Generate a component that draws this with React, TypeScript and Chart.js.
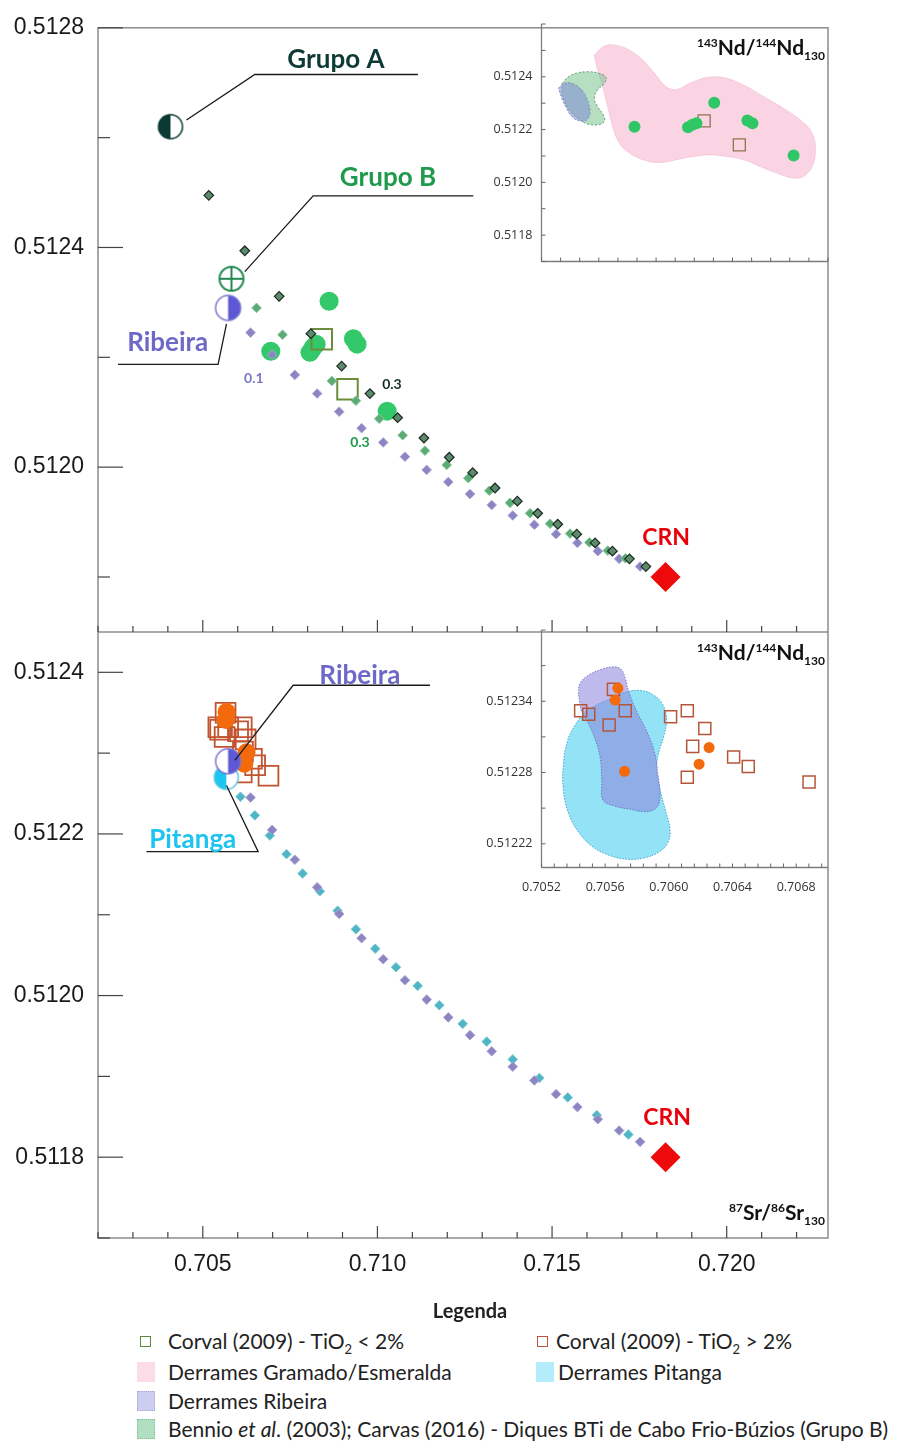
import React, { useEffect, useRef } from 'react';
import { Chart, registerables } from 'chart.js';

Chart.register(...registerables);

type P = [number, number];

// ---- 87Sr/86Sr(130) vs 143Nd/144Nd(130) ----

// Grupo B samples (green circles) and Corval (2009) TiO2 < 2% (squares)
const LOW_TI_SAMPLES: P[] = [
  [0.706947, 0.512211], [0.708069, 0.512209], [0.708162, 0.512218], [0.708246, 0.512224],
  [0.708617, 0.512302], [0.709312, 0.512234], [0.709417, 0.512224], [0.71028, 0.512102],
];
const CORVAL_LOW_TI: P[] = [[0.708406, 0.512233], [0.709143, 0.512142]];

// Orange circles and Corval (2009) TiO2 > 2% (squares)
const HIGH_TI_SAMPLES: P[] = [
  [0.70568, 0.512351], [0.705663, 0.512341], [0.705722, 0.512281], [0.706253, 0.512301], [0.70619, 0.512287],
];
const CORVAL_HIGH_TI: P[] = [
  [0.705652, 0.51235], [0.705446, 0.512332], [0.705497, 0.512329], [0.705726, 0.512332],
  [0.705625, 0.51232], [0.706011, 0.512327], [0.706116, 0.512332], [0.706226, 0.512317],
  [0.70615, 0.512302], [0.706116, 0.512276], [0.706407, 0.512293], [0.706499, 0.512285],
  [0.706881, 0.512272],
];

// End members
const GRUPO_A: P[] = [[0.704075, 0.51262]];
const GRUPO_B: P[] = [[0.705822, 0.512343]];
const RIBEIRA: P[] = [[0.705725, 0.51229]];
const PITANGA: P[] = [[0.705673, 0.51227]];
const CRN: P[] = [[0.71825, 0.5118]];

// Mixing curves towards CRN
const MIX_GRUPO_A: P[] = [
  [0.705172, 0.512495], [0.706203, 0.512394], [0.707186, 0.512311], [0.708095, 0.512243],
  [0.708974, 0.512184], [0.709785, 0.512134], [0.710579, 0.51209], [0.711332, 0.512053],
  [0.712057, 0.512018], [0.712728, 0.51199], [0.713367, 0.511962], [0.714006, 0.511938],
  [0.71459, 0.511916], [0.715163, 0.511896], [0.715708, 0.511878], [0.716232, 0.511862],
  [0.716728, 0.511847], [0.717215, 0.511833], [0.717685, 0.511819],
];
const MIX_GRUPO_B: P[] = [
  [0.706539, 0.51229], [0.707284, 0.512241], [0.708696, 0.512157], [0.709384, 0.512121],
  [0.710052, 0.512088], [0.710722, 0.512058], [0.711361, 0.51203], [0.711983, 0.512004],
  [0.712602, 0.51198], [0.713203, 0.511957], [0.713797, 0.511935], [0.71437, 0.511916],
  [0.714943, 0.511897], [0.715516, 0.511879], [0.716069, 0.511863], [0.716596, 0.511848],
  [0.7171, 0.511834],
];
const MIX_RIBEIRA: P[] = [
  [0.706367, 0.512245], [0.706986, 0.512205], [0.707636, 0.512168], [0.708275, 0.512134],
  [0.708905, 0.512101], [0.709547, 0.512071], [0.710166, 0.512045], [0.710788, 0.512019],
  [0.71141, 0.511995], [0.712029, 0.511973], [0.71265, 0.511951], [0.713272, 0.511931],
  [0.713874, 0.511912], [0.714493, 0.511895], [0.715115, 0.511878], [0.715725, 0.511862],
  [0.71631, 0.511847], [0.71692, 0.511833], [0.717521, 0.511819],
];
const MIX_PITANGA: P[] = [
  [0.70608, 0.512246], [0.70649, 0.512223], [0.70692, 0.512198], [0.707398, 0.512175],
  [0.707857, 0.512151], [0.708352, 0.512129], [0.70886, 0.512105], [0.709384, 0.512082],
  [0.709937, 0.512058], [0.71053, 0.512035], [0.711152, 0.512012], [0.711771, 0.511988],
  [0.712441, 0.511965], [0.713129, 0.511943], [0.713874, 0.511921], [0.714636, 0.511898],
  [0.71545, 0.511874], [0.716281, 0.511852], [0.717186, 0.511828],
];

// Compositional fields (outlines)
const FIELD_GRAMADO: P[] = [
  [0.706105, 0.512482], [0.706316, 0.512516], [0.706561, 0.512519], [0.706842, 0.512501],
  [0.707123, 0.512463], [0.707368, 0.512413], [0.707614, 0.512362], [0.707825, 0.512352],
  [0.708105, 0.512375], [0.708456, 0.512397], [0.708807, 0.512397], [0.709228, 0.512369],
  [0.709649, 0.512325], [0.71007, 0.51228], [0.710421, 0.512236], [0.710667, 0.512186],
  [0.710737, 0.512123], [0.710667, 0.51206], [0.710491, 0.512023], [0.71028, 0.512016],
  [0.70993, 0.512035], [0.709579, 0.51206], [0.709228, 0.512086], [0.708877, 0.512098],
  [0.708526, 0.512104], [0.708175, 0.512098], [0.707825, 0.512086], [0.707474, 0.512075],
  [0.707123, 0.512086], [0.706842, 0.512111], [0.706632, 0.512148], [0.706491, 0.512211],
  [0.706386, 0.512287], [0.706281, 0.512362], [0.706175, 0.512425],
];
const FIELD_BENNIO: P[] = [
  [0.705439, 0.512375], [0.705544, 0.512397], [0.705719, 0.512413], [0.705965, 0.512419],
  [0.706211, 0.512413], [0.706351, 0.512397], [0.706316, 0.512375], [0.706175, 0.51235],
  [0.706105, 0.512318], [0.706175, 0.512287], [0.706295, 0.512255], [0.706316, 0.51223],
  [0.706175, 0.512218], [0.705965, 0.512221], [0.705754, 0.512243], [0.705579, 0.512274],
  [0.705474, 0.512312], [0.705425, 0.512343],
];
const FIELD_RIBEIRA_WIDE: P[] = [
  [0.705354, 0.512356], [0.705439, 0.512372], [0.705579, 0.512377], [0.705754, 0.512365],
  [0.705895, 0.512337], [0.705986, 0.512299], [0.706014, 0.512262], [0.705944, 0.512236],
  [0.705789, 0.512233], [0.705635, 0.512249], [0.705523, 0.512281], [0.705425, 0.512318],
];
const FIELD_RIBEIRA: P[] = [
  [0.705432, 0.512346], [0.705442, 0.512355], [0.705495, 0.512362], [0.705579, 0.512367],
  [0.705653, 0.512369], [0.705699, 0.512367], [0.705727, 0.512359], [0.705748, 0.512348],
  [0.7058, 0.512331], [0.705864, 0.512314], [0.70591, 0.512297], [0.705933, 0.512277],
  [0.705944, 0.512261], [0.705927, 0.512251], [0.705864, 0.512247], [0.705758, 0.512249],
  [0.705653, 0.512252], [0.705585, 0.512257], [0.705579, 0.512272], [0.705569, 0.512292],
  [0.705537, 0.512308], [0.705495, 0.512321], [0.705453, 0.512331],
];
const FIELD_PITANGA: P[] = [
  [0.705474, 0.512331], [0.705548, 0.512337], [0.705632, 0.512342], [0.705737, 0.512348],
  [0.705821, 0.512349], [0.705895, 0.512346], [0.705958, 0.512338], [0.705986, 0.512325],
  [0.705969, 0.512311], [0.705937, 0.512297], [0.705922, 0.512283], [0.705944, 0.512266],
  [0.705979, 0.512248], [0.706007, 0.512232], [0.705994, 0.512221], [0.705937, 0.512213],
  [0.705842, 0.512208], [0.705737, 0.512207], [0.705632, 0.51221], [0.705526, 0.512217],
  [0.705432, 0.51223], [0.705369, 0.512246], [0.705337, 0.512266], [0.705337, 0.512286],
  [0.705362, 0.512306], [0.705411, 0.51232],
];

// Axis labels
const MAIN_X_LABELS = [0.705, 0.71, 0.715, 0.72];
const TOP_Y_LABELS = [0.512, 0.5124, 0.5128];
const BOTTOM_Y_LABELS = [0.5118, 0.512, 0.5122, 0.5124];
const INSET_A_X_LABELS = [0.706, 0.708, 0.71];
const INSET_A_Y_LABELS = [0.5118, 0.512, 0.5122, 0.5124];
const INSET_B_X_LABELS = [0.7052, 0.7056, 0.706, 0.7064, 0.7068];
const INSET_B_Y_LABELS = [0.51222, 0.51228, 0.51234];

// Annotation texts (placed in data units of each panel)
const TOP_NOTES = [
  { text: 'Grupo A', x: 0.708811, y: 0.512742, color: '#0d3a35', size: 26 },
  { text: 'Grupo B', x: 0.710301, y: 0.512527, color: '#1f9a4c', size: 26 },
  { text: 'Ribeira', x: 0.703997, y: 0.512226, color: '#6e68c8', size: 26 },
  { text: '0.1', x: 0.706461, y: 0.512161, color: '#7b76c4', size: 14 },
  { text: '0.3', x: 0.710415, y: 0.51215, color: '#10302b', size: 14 },
  { text: '0.3', x: 0.709499, y: 0.512045, color: '#1f9a4c', size: 14 },
  { text: 'CRN', x: 0.718266, y: 0.511872, color: '#e8000b', size: 23 },
];
const BOTTOM_NOTES = [
  { text: 'Ribeira', x: 0.709499, y: 0.512396, color: '#6e68c8', size: 26 },
  { text: 'Pitanga', x: 0.704713, y: 0.512193, color: '#1cc4ef', size: 26 },
  { text: 'CRN', x: 0.718295, y: 0.511849, color: '#e8000b', size: 23 },
];
const TOP_LEADERS: P[][] = [
  [[0.704533, 0.512632], [0.70649, 0.512715], [0.71116, 0.512715]],
  [[0.706203, 0.512356], [0.70816, 0.512494], [0.712745, 0.512494]],
  [[0.705679, 0.512261], [0.705438, 0.512187], [0.702573, 0.512187]],
];
const BOTTOM_LEADERS: P[][] = [
  [[0.705917, 0.512291], [0.707587, 0.512384], [0.711504, 0.512384]],
  [[0.705679, 0.51226], [0.706585, 0.512178], [0.703387, 0.512178]],
];

const TICK_FONT = '"Liberation Sans", Arial, sans-serif';
const INSET_FONT = '"Open Sans", "Noto Sans", sans-serif';
const LABEL_FONT = 'Lato, "Open Sans", sans-serif';

const xy = (pts: P[]) => pts.map(([x, y]) => ({ x, y }));
const isLabel = (arr: number[], v: number) => arr.some((a) => Math.abs(a - v) < 1e-9);

function strokeLine(ctx: CanvasRenderingContext2D, x1: number, y1: number, x2: number, y2: number) {
  ctx.beginPath();
  ctx.moveTo(x1, y1);
  ctx.lineTo(x2, y2);
  ctx.stroke();
}

function tickMarksX(ctx: any, scale: any, yBase: number, labels: number[], major: number, minor: number) {
  for (const t of scale.ticks) {
    const px = scale.getPixelForValue(t.value);
    strokeLine(ctx, px, yBase, px, yBase - (isLabel(labels, t.value) ? major : minor));
  }
}
function tickMarksY(ctx: any, scale: any, xBase: number, labels: number[], major: number, minor: number) {
  for (const t of scale.ticks) {
    const py = scale.getPixelForValue(t.value);
    strokeLine(ctx, xBase, py, xBase + (isLabel(labels, t.value) ? major : minor), py);
  }
}

function drawNotes(ctx: any, xs: any, ys: any, notes: typeof TOP_NOTES) {
  ctx.textAlign = 'center';
  ctx.textBaseline = 'middle';
  for (const n of notes) {
    ctx.font = `bold ${n.size}px ${LABEL_FONT}`;
    ctx.fillStyle = n.color;
    ctx.fillText(n.text, xs.getPixelForValue(n.x), ys.getPixelForValue(n.y));
  }
}
function drawLeaders(ctx: any, xs: any, ys: any, leaders: P[][]) {
  ctx.strokeStyle = '#1a1a1a';
  ctx.lineWidth = 1.3;
  for (const l of leaders) {
    ctx.beginPath();
    l.forEach(([x, y], i) => {
      const px = xs.getPixelForValue(x);
      const py = ys.getPixelForValue(y);
      if (i === 0) ctx.moveTo(px, py);
      else ctx.lineTo(px, py);
    });
    ctx.stroke();
  }
}

// Point symbols for the end members
function symbolCanvas(r: number, draw: (ctx: CanvasRenderingContext2D, c: number) => void) {
  const s = Math.ceil(2 * r + 4);
  const cv = document.createElement('canvas');
  cv.width = s;
  cv.height = s;
  draw(cv.getContext('2d')!, s / 2);
  return cv;
}
function halfCircle(r: number, fill: string, stroke: string, side: 'left' | 'right') {
  return symbolCanvas(r, (ctx, c) => {
    ctx.beginPath();
    ctx.arc(c, c, r, 0, Math.PI * 2);
    ctx.fillStyle = '#fff';
    ctx.fill();
    ctx.beginPath();
    if (side === 'left') ctx.arc(c, c, r, Math.PI / 2, Math.PI * 1.5);
    else ctx.arc(c, c, r, -Math.PI / 2, Math.PI / 2);
    ctx.closePath();
    ctx.fillStyle = fill;
    ctx.fill();
    ctx.beginPath();
    ctx.arc(c, c, r, 0, Math.PI * 2);
    ctx.lineWidth = 1.5;
    ctx.strokeStyle = stroke;
    ctx.stroke();
  });
}
function crossCircle(r: number, stroke: string) {
  return symbolCanvas(r, (ctx, c) => {
    ctx.beginPath();
    ctx.arc(c, c, r, 0, Math.PI * 2);
    ctx.fillStyle = '#fff';
    ctx.fill();
    ctx.lineWidth = 2;
    ctx.strokeStyle = stroke;
    ctx.stroke();
    strokeLine(ctx, c - r, c, c + r, c);
    strokeLine(ctx, c, c - r, c, c + r);
  });
}

const pt = (style: any, radius: number, fill: string, stroke: string, bw: number) => ({
  pointStyle: style,
  pointRadius: radius,
  pointHoverRadius: radius,
  pointBackgroundColor: fill,
  pointBorderColor: stroke,
  pointBorderWidth: bw,
  backgroundColor: fill,
  borderColor: stroke,
});
const scatter = (data: P[], yAxisID: string, style: any) => ({
  type: 'scatter',
  data: xy(data),
  yAxisID,
  showLine: false,
  ...style,
});
const field = (pts: P[], yAxisID: string, fill: string, stroke: string, dash: number[]) => ({
  type: 'line',
  data: xy([...pts, pts[0]]),
  yAxisID,
  fill: 'shape',
  backgroundColor: fill,
  borderColor: stroke,
  borderWidth: 1,
  borderDash: dash,
  tension: 0.4,
  pointRadius: 0,
  pointHoverRadius: 0,
});

function labelAxis(opts: any) {
  const { min, max, step, labels, digits, font, color, padding, position, size, stack, stackWeight, weight } = opts;
  const axis: any = {
    type: 'linear',
    position,
    min,
    max,
    grid: { display: false, drawTicks: false },
    border: { display: false },
    ticks: {
      stepSize: step,
      autoSkip: false,
      includeBounds: false,
      maxRotation: 0,
      minRotation: 0,
      padding,
      color,
      font,
      callback: (v: number) => (isLabel(labels, v) ? v.toFixed(digits) : ''),
    },
    afterFit: (s: any) => {
      if (position === 'bottom') s.height = size;
      else s.width = size;
    },
  };
  if (stack) {
    axis.stack = stack;
    axis.stackWeight = stackWeight;
    axis.weight = weight;
  }
  return axis;
}

function mainConfig(): any {
  const grupoA = halfCircle(12, '#0b3a35', '#0b3a35', 'left');
  const grupoB = crossCircle(12, '#23894f');
  const ribeira = halfCircle(12.5, '#5e58d6', '#7a75cf', 'right');
  const pitanga = halfCircle(12, '#1cc6ee', '#5cc4e4', 'left');
  const tickFont = { family: TICK_FONT, size: 23 };

  const decor = {
    id: 'mainDecor',
    afterDraw(chart: any) {
      const { ctx, chartArea: a, scales } = chart;
      const xs = scales.x;
      const yt = scales.yTop;
      const yb = scales.yBot;
      ctx.save();
      ctx.strokeStyle = '#8c8c8c';
      ctx.lineWidth = 1.5;
      ctx.strokeRect(a.left, a.top, a.right - a.left, a.bottom - a.top);
      strokeLine(ctx, a.left, yt.bottom, a.right, yt.bottom);
      ctx.strokeStyle = '#444';
      ctx.lineWidth = 1.2;
      tickMarksY(ctx, yt, a.left, TOP_Y_LABELS, 25, 12);
      tickMarksY(ctx, yb, a.left, BOTTOM_Y_LABELS, 25, 12);
      tickMarksX(ctx, xs, yt.bottom, MAIN_X_LABELS, 12, 6);
      tickMarksX(ctx, xs, yb.bottom, MAIN_X_LABELS, 12, 6);
      drawLeaders(ctx, xs, yt, TOP_LEADERS);
      drawLeaders(ctx, xs, yb, BOTTOM_LEADERS);
      drawNotes(ctx, xs, yt, TOP_NOTES);
      drawNotes(ctx, xs, yb, BOTTOM_NOTES);
      ctx.restore();
    },
  };

  return {
    type: 'scatter',
    data: {
      datasets: [
        // upper panel
        scatter(CRN, 'yTop', pt('rectRot', 15, '#ee0a0a', '#ee0a0a', 0)),
        scatter(GRUPO_A, 'yTop', { pointStyle: grupoA, pointRadius: 12 }),
        scatter(GRUPO_B, 'yTop', { pointStyle: grupoB, pointRadius: 12 }),
        scatter(RIBEIRA, 'yTop', { pointStyle: ribeira, pointRadius: 12 }),
        scatter(MIX_GRUPO_A, 'yTop', pt('rectRot', 4.8, '#5c8a6c', '#1e2a22', 1.2)),
        scatter(MIX_GRUPO_B, 'yTop', pt('rectRot', 4.8, '#5aab74', '#86c49a', 1)),
        scatter(MIX_RIBEIRA, 'yTop', pt('rectRot', 4.8, '#8b86c2', '#a9a4d6', 1)),
        scatter(CORVAL_LOW_TI, 'yTop', pt('rect', 14.5, 'rgba(0,0,0,0)', '#6c8d3b', 2)),
        scatter(LOW_TI_SAMPLES, 'yTop', pt('circle', 9.5, '#33c96a', '#33c96a', 0)),
        // lower panel
        scatter(CRN, 'yBot', pt('rectRot', 15, '#ee0a0a', '#ee0a0a', 0)),
        scatter(RIBEIRA, 'yBot', { pointStyle: ribeira, pointRadius: 12 }),
        scatter(PITANGA, 'yBot', { pointStyle: pitanga, pointRadius: 12 }),
        scatter(HIGH_TI_SAMPLES, 'yBot', pt('circle', 9, '#f36a0c', '#f36a0c', 0)),
        scatter(CORVAL_HIGH_TI, 'yBot', pt('rect', 14, 'rgba(0,0,0,0)', '#c2532e', 1.8)),
        scatter(MIX_RIBEIRA, 'yBot', pt('rectRot', 4.8, '#8b86c2', '#a9a4d6', 1)),
        scatter(MIX_PITANGA, 'yBot', pt('rectRot', 4.8, '#4fb5c5', '#7ccad6', 1)),
      ],
    },
    options: {
      animation: false,
      responsive: false,
      maintainAspectRatio: false,
      layout: { padding: { left: 0, right: 86, top: 24, bottom: 0 } },
      plugins: { legend: { display: false }, tooltip: { enabled: false } },
      scales: {
        x: labelAxis({ min: 0.702, max: 0.7229, step: 0.001, labels: MAIN_X_LABELS, digits: 3, font: tickFont, color: '#1a1a1a', padding: 13, position: 'bottom', size: 62 }),
        yBot: labelAxis({ min: 0.5117, max: 0.51245, step: 0.0001, labels: BOTTOM_Y_LABELS, digits: 4, font: tickFont, color: '#1a1a1a', padding: 14, position: 'left', size: 98, stack: 'nd', stackWeight: 608, weight: 1 }),
        yTop: labelAxis({ min: 0.5117, max: 0.5128, step: 0.0002, labels: TOP_Y_LABELS, digits: 4, font: tickFont, color: '#1a1a1a', padding: 14, position: 'left', size: 98, stack: 'nd', stackWeight: 606, weight: 2 }),
      },
    },
    plugins: [decor],
  };
}

function insetDecor(id: string) {
  return {
    id,
    afterDraw(chart: any) {
      const { ctx, chartArea: a, scales } = chart;
      ctx.save();
      ctx.strokeStyle = '#7d7d7d';
      ctx.lineWidth = 1.3;
      strokeLine(ctx, a.left, a.top, a.left, a.bottom);
      strokeLine(ctx, a.left, a.bottom, a.right, a.bottom);
      ctx.strokeStyle = '#666';
      ctx.lineWidth = 1;
      tickMarksX(ctx, scales.x, a.bottom, [], 4, 4);
      tickMarksY(ctx, scales.y, a.left, [], 4, 4);
      ctx.restore();
    },
  };
}

function insetOptions(x: any, y: any) {
  const font = { family: INSET_FONT, size: 12.5 };
  return {
    animation: false,
    responsive: false,
    maintainAspectRatio: false,
    layout: { padding: { left: 0, right: 86, top: 24, bottom: 0 } },
    plugins: { legend: { display: false }, tooltip: { enabled: false } },
    scales: {
      x: labelAxis({ ...x, font, color: '#333', padding: 12, position: 'bottom', size: 38.5 }),
      y: labelAxis({ ...y, font, color: '#333', padding: 9, position: 'left', size: 61.5 }),
    },
  };
}

function insetTopConfig(): any {
  return {
    type: 'scatter',
    data: {
      datasets: [
        scatter(LOW_TI_SAMPLES, 'y', pt('circle', 6, '#2fc765', '#2fc765', 0)),
        scatter(CORVAL_LOW_TI, 'y', pt('rect', 8.5, 'rgba(0,0,0,0)', '#8f7550', 1.3)),
        field(FIELD_RIBEIRA_WIDE, 'y', 'rgba(128,140,215,0.55)', 'rgba(110,110,190,0.7)', [2, 2]),
        field(FIELD_BENNIO, 'y', 'rgba(120,196,140,0.55)', 'rgba(80,130,95,0.8)', [2, 2]),
        field(FIELD_GRAMADO, 'y', 'rgba(248,186,212,0.62)', 'rgba(240,175,205,0.5)', []),
      ],
    },
    options: insetOptions(
      { min: 0.705, max: 0.711, step: 0.0004, labels: INSET_A_X_LABELS, digits: 3 },
      { min: 0.5117, max: 0.5126, step: 0.0001, labels: INSET_A_Y_LABELS, digits: 4 },
    ),
    plugins: [insetDecor('insetTopDecor')],
  };
}

function insetBottomConfig(): any {
  return {
    type: 'scatter',
    data: {
      datasets: [
        scatter(HIGH_TI_SAMPLES, 'y', pt('circle', 5.5, '#f26a0c', '#f26a0c', 0)),
        scatter(CORVAL_HIGH_TI, 'y', pt('rect', 8.5, 'rgba(0,0,0,0)', '#b5553a', 1.5)),
        field(FIELD_RIBEIRA, 'y', 'rgba(140,130,220,0.55)', 'rgba(100,100,185,0.8)', [1.5, 1.5]),
        field(FIELD_PITANGA, 'y', 'rgba(90,210,240,0.65)', 'rgba(50,160,200,0.9)', [1.5, 1.5]),
      ],
    },
    options: insetOptions(
      { min: 0.7052, max: 0.707, step: 0.00008, labels: INSET_B_X_LABELS, digits: 4 },
      { min: 0.5122, max: 0.5124, step: 0.00003, labels: INSET_B_Y_LABELS, digits: 5 },
    ),
    plugins: [insetDecor('insetBottomDecor')],
  };
}

const supStyle: React.CSSProperties = { fontSize: 12, position: 'relative', top: -8 };
const subStyle: React.CSSProperties = { fontSize: 12, position: 'relative', top: 5 };

function IsoTitle({ top, mass1, mass2, el }: { top: number; mass1: string; mass2: string; el: string }) {
  return (
    <div
      style={{
        position: 'absolute',
        right: 89,
        top,
        font: `bold 21px ${LABEL_FONT}`,
        lineHeight: '24px',
        color: '#111',
        whiteSpace: 'nowrap',
      }}
    >
      <span style={supStyle}>{mass1}</span>
      {el}/<span style={supStyle}>{mass2}</span>
      {el}
      <span style={subStyle}>130</span>
    </div>
  );
}

const legendText: React.CSSProperties = {
  position: 'absolute',
  font: `21px ${LABEL_FONT}`,
  lineHeight: '24px',
  color: '#222',
  whiteSpace: 'nowrap',
};
const subTi: React.CSSProperties = { fontSize: 13, position: 'relative', top: 5 };

function Patch({ left, top, color, border }: { left: number; top: number; color: string; border?: string }) {
  return (
    <div
      style={{
        position: 'absolute',
        left,
        top,
        width: 18,
        height: 20,
        background: color,
        boxSizing: 'border-box',
        border: border ? `1px dotted ${border}` : 'none',
      }}
    />
  );
}
function OpenSquare({ left, top, color }: { left: number; top: number; color: string }) {
  return (
    <div
      style={{
        position: 'absolute',
        left,
        top,
        width: 11,
        height: 11,
        boxSizing: 'border-box',
        border: `1.5px solid ${color}`,
      }}
    />
  );
}

export default function App() {
  const mainRef = useRef<HTMLCanvasElement>(null);
  const topRef = useRef<HTMLCanvasElement>(null);
  const botRef = useRef<HTMLCanvasElement>(null);

  useEffect(() => {
    document.body.style.margin = '0';
    const charts = [
      new Chart(mainRef.current!, mainConfig()),
      new Chart(topRef.current!, insetTopConfig()),
      new Chart(botRef.current!, insetBottomConfig()),
    ];
    return () => charts.forEach((c) => c.destroy());
  }, []);

  return (
    <div style={{ position: 'relative', width: 914, height: 1441, background: '#fff', overflow: 'hidden' }}>
      <canvas ref={mainRef} width={914} height={1300} style={{ position: 'absolute', left: 0, top: 0 }} />
      <canvas ref={topRef} width={434} height={300} style={{ position: 'absolute', left: 480, top: 0 }} />
      <canvas ref={botRef} width={434} height={300} style={{ position: 'absolute', left: 480, top: 606 }} />

      <IsoTitle top={35} mass1="143" mass2="144" el="Nd" />
      <IsoTitle top={640} mass1="143" mass2="144" el="Nd" />
      <IsoTitle top={1200} mass1="87" mass2="86" el="Sr" />

      <div
        style={{
          position: 'absolute',
          left: 370,
          width: 200,
          top: 1298,
          textAlign: 'center',
          font: `bold 20px ${LABEL_FONT}`,
          lineHeight: '24px',
          color: '#222',
        }}
      >
        Legenda
      </div>

      <OpenSquare left={140} top={1336} color="#5a8a3a" />
      <div style={{ ...legendText, left: 168, top: 1329 }}>
        Corval (2009) - TiO<span style={subTi}>2</span> &lt; 2%
      </div>
      <OpenSquare left={537} top={1336} color="#c0553a" />
      <div style={{ ...legendText, left: 556, top: 1329 }}>
        Corval (2009) - TiO<span style={subTi}>2</span> &gt; 2%
      </div>

      <Patch left={137} top={1362} color="#fcdce6" />
      <div style={{ ...legendText, left: 168, top: 1360 }}>Derrames Gramado/Esmeralda</div>
      <Patch left={536} top={1362} color="#b3ecfa" />
      <div style={{ ...legendText, left: 558, top: 1360 }}>Derrames Pitanga</div>

      <Patch left={137} top={1391} color="#cdcdf0" border="#a8a8d8" />
      <div style={{ ...legendText, left: 168, top: 1389 }}>Derrames Ribeira</div>

      <Patch left={137} top={1419} color="#b2dfc2" border="#7fbf90" />
      <div style={{ ...legendText, left: 168, top: 1417 }}>
        Bennio <i>et al</i>. (2003); Carvas (2016) - Diques BTi de Cabo Frio-Búzios (Grupo B)
      </div>
    </div>
  );
}
